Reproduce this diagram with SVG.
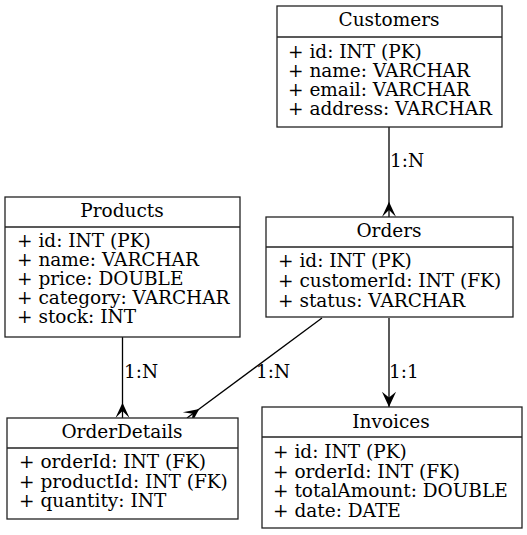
<svg xmlns="http://www.w3.org/2000/svg" width="527" height="535" viewBox="0 0 527 535">
<style>
.box{fill:#fff;stroke:#222;stroke-width:1.3}
.div{stroke:#222;stroke-width:1.3}
.t{font-family:"DejaVu Serif",serif;font-size:18.5px;fill:#000}
.c{text-anchor:middle}
.edge{stroke:#000;stroke-width:1.3;fill:none}
</style>
<defs>
<marker id="many" markerUnits="userSpaceOnUse" markerWidth="20" markerHeight="20" viewBox="-15 -8 17 16" refX="0" refY="0" orient="auto" overflow="visible">
<path d="M-13,0 L0,-6 L-6,0 L0,6 Z" fill="#000"/>
</marker>
<marker id="arrow" markerUnits="userSpaceOnUse" markerWidth="20" markerHeight="20" viewBox="-15 -8 17 16" refX="0" refY="0" orient="auto" overflow="visible">
<path d="M0,0 L-13,-6 L-8,0 L-13,6 Z" fill="#000"/>
</marker>
</defs>
<rect width="527" height="535" fill="#fff"/>
<g id="connectors">
<line class="edge" x1="389" y1="127" x2="389" y2="217" marker-end="url(#many)"/>
<text class="t" x="390" y="167">1:N</text>
<line class="edge" x1="122.5" y1="337" x2="122.5" y2="418" marker-end="url(#many)"/>
<text class="t" x="124" y="378">1:N</text>
<line class="edge" x1="322" y1="318" x2="187" y2="418" marker-end="url(#many)"/>
<text class="t" x="256" y="378">1:N</text>
<line class="edge" x1="389" y1="318" x2="389" y2="407" marker-end="url(#arrow)"/>
<text class="t" x="389" y="378">1:1</text>
</g>
<g id="Customers">
<rect class="box" x="277" y="6" width="225" height="121"/>
<line class="div" x1="277" y1="37" x2="502" y2="37"/>
<text class="t c" x="389" y="26">Customers</text>
<text class="t" x="288" y="58">+ id: INT (PK)</text>
<text class="t" x="288" y="77">+ name: VARCHAR</text>
<text class="t" x="288" y="96">+ email: VARCHAR</text>
<text class="t" x="288" y="115">+ address: VARCHAR</text>
</g>
<g id="Products">
<rect class="box" x="5" y="197" width="235" height="140"/>
<line class="div" x1="5" y1="227" x2="240" y2="227"/>
<text class="t c" x="122" y="217">Products</text>
<text class="t" x="17" y="247">+ id: INT (PK)</text>
<text class="t" x="17" y="266">+ name: VARCHAR</text>
<text class="t" x="17" y="285">+ price: DOUBLE</text>
<text class="t" x="17" y="304">+ category: VARCHAR</text>
<text class="t" x="17" y="323">+ stock: INT</text>
</g>
<g id="Orders">
<rect class="box" x="266" y="217" width="247" height="100"/>
<line class="div" x1="266" y1="247" x2="513" y2="247"/>
<text class="t c" x="389" y="237">Orders</text>
<text class="t" x="278" y="267">+ id: INT (PK)</text>
<text class="t" x="278" y="287">+ customerId: INT (FK)</text>
<text class="t" x="278" y="307">+ status: VARCHAR</text>
</g>
<g id="OrderDetails">
<rect class="box" x="7" y="418" width="231" height="101"/>
<line class="div" x1="7" y1="448" x2="238" y2="448"/>
<text class="t c" x="122" y="438">OrderDetails</text>
<text class="t" x="19" y="468">+ orderId: INT (FK)</text>
<text class="t" x="19" y="488">+ productId: INT (FK)</text>
<text class="t" x="19" y="507">+ quantity: INT</text>
</g>
<g id="Invoices">
<rect class="box" x="262" y="407" width="260" height="121"/>
<line class="div" x1="262" y1="437" x2="522" y2="437"/>
<text class="t c" x="391" y="428">Invoices</text>
<text class="t" x="273" y="458">+ id: INT (PK)</text>
<text class="t" x="273" y="478">+ orderId: INT (FK)</text>
<text class="t" x="273" y="497">+ totalAmount: DOUBLE</text>
<text class="t" x="273" y="517">+ date: DATE</text>
</g>
</svg>
